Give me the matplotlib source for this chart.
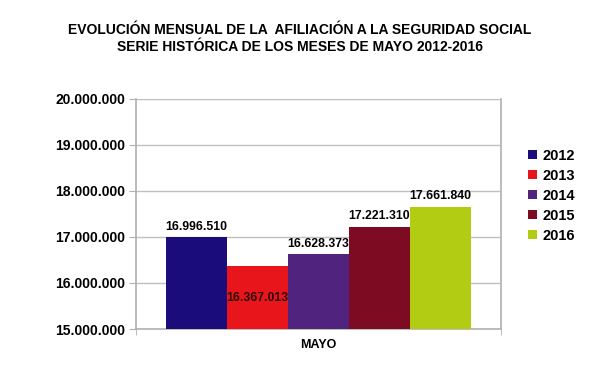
import matplotlib.pyplot as plt
from matplotlib.ticker import FuncFormatter

plt.rcParams['font.family'] = ['Liberation Sans', 'DejaVu Sans']

anios = ["2012", "2013", "2014", "2015", "2016"]
afiliados = [16996510, 16367013, 16628373, 17221310, 17661840]
colores = ["#1b0c7c", "#e8161b", "#50237f", "#7d0b22", "#b1cc12"]
etiquetas = ["16.996.510", "16.367.013", "16.628.373", "17.221.310", "17.661.840"]

fig = plt.figure(figsize=(6, 3.71), dpi=100)
ax = fig.add_axes([0.2267, 0.1132, 0.6083, 0.6200])

ancho = 0.1672
x0 = -2 * ancho
for i, (anio, v) in enumerate(zip(anios, afiliados)):
    x = x0 + i * ancho
    ax.bar(x, v - 15000000, bottom=15000000, width=ancho, color=colores[i],
           label=anio, zorder=3)
    # la etiqueta de 2013 queda metida dentro de la barra, como en el original
    if anio == "2013":
        ax.text(x, v - 690000, etiquetas[i], ha="center", va="center",
                fontsize=8.8, fontweight="bold", color="#2a0a0a", zorder=4)
    else:
        ax.text(x, v + 230000, etiquetas[i], ha="center", va="center",
                fontsize=8.8, fontweight="bold", color="black", zorder=4)

ax.set_xlim(-0.5, 0.5)
ax.set_ylim(15000000, 20000000)
ax.set_yticks([15000000, 16000000, 17000000, 18000000, 19000000, 20000000])
ax.yaxis.set_major_formatter(FuncFormatter(lambda v, p: f"{int(v):,}".replace(",", ".")))
ax.set_xticks([0])
ax.set_xticklabels(["MAYO"], fontsize=9, fontweight="bold")
ax.set_xticks([-0.5, 0.5], minor=True)
ax.tick_params(axis="x", which="major", length=0, pad=7)
ax.tick_params(axis="x", which="minor", length=4, color="#b0b0b0")
ax.tick_params(axis="y", length=5, color="#b0b0b0", labelsize=10, pad=3)
for lab in ax.get_yticklabels():
    lab.set_fontweight("bold")

ax.grid(axis="y", color="#c0c0c0", linewidth=1, zorder=0)
for s in ["left", "bottom", "right"]:
    ax.spines[s].set_color("#b0b0b0")
    ax.spines[s].set_linewidth(1.2)
ax.spines["top"].set_visible(False)

fig.text(0.5, 0.918, "EVOLUCIÓN MENSUAL DE LA  AFILIACIÓN A LA SEGURIDAD SOCIAL",
         ha="center", va="center", fontsize=10, fontweight="bold")
fig.text(0.5, 0.874, "SERIE HISTÓRICA DE LOS MESES DE MAYO 2012-2016",
         ha="center", va="center", fontsize=10, fontweight="bold")

ax.legend(loc="upper left", bbox_to_anchor=(1.055, 0.815), frameon=False,
          prop={"size": 10.5, "weight": "bold"}, handlelength=0.6, handleheight=0.6,
          handletextpad=0.4, labelspacing=0.41, borderpad=0)

fig.savefig("out.png", dpi=100)
